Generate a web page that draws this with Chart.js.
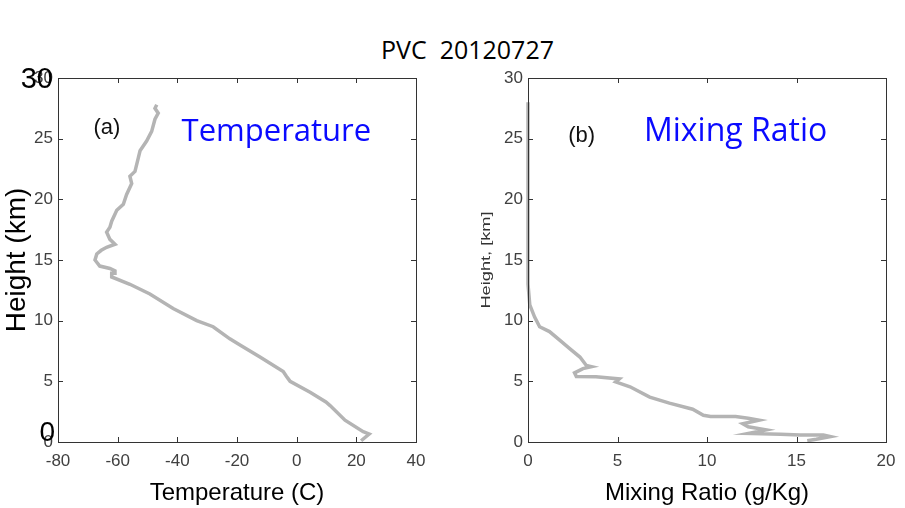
<!DOCTYPE html>
<html>
<head>
<meta charset="utf-8">
<script src="https://cdn.jsdelivr.net/npm/chart.js@4.4.1/dist/chart.umd.min.js"></script>
<style>
  body { margin: 0; background: #fff; }
  #wrap { position: relative; width: 905px; height: 508px; overflow: hidden; }
  #title { position: absolute; left: 0; width: 935px; top: 32px; line-height: 32px;
           text-align: center; font: 25px "Open Sans", sans-serif; white-space: pre; color: #000; }
  canvas { position: absolute; top: 0; }
  #c1 { left: 0; }
  #c2 { left: 450px; }
</style>
</head>
<body>
<div id="wrap">
  <div id="title">PVC  20120727</div>
  <canvas id="c1" width="450" height="508"></canvas>
  <canvas id="c2" width="455" height="508"></canvas>
</div>
<script>
// (a) temperature profile
const tempC  = [21.6, 24.3, 22.3, 16.2, 11.2, 9.8, 4.5, -2.2, -2.8, -3.4, -4.5, -12.3, -19, -22.4, -28, -33.5,
                -41.4, -49.2, -55.9, -62, -62, -60.9, -60.9, -62.6, -66, -67.6, -67, -65.5, -63.7, -60.9, -62.6,
                -63.7, -62.6, -62, -60.3, -58.1, -57, -55.3, -55.9, -54.2, -53.1, -52.5, -50.3, -48.6, -47.5,
                -46.4, -47.5, -46.9];
const tempKm = [0.1, 0.66, 0.85, 1.8, 3.0, 3.3, 4.1, 5.0, 5.2, 5.4, 5.8, 7.0, 8.0, 8.5, 9.5, 10.0,
                11.0, 12.2, 13.0, 13.6, 13.9, 13.9, 14.1, 14.3, 14.5, 15.0, 15.5, 15.8, 16.05, 16.3, 16.7,
                17.3, 17.7, 18.2, 19.1, 19.6, 20.4, 21.3, 21.9, 22.3, 23.4, 24.0, 24.8, 25.6, 26.6,
                27.1, 27.5, 27.8];

// (b) mixing ratio profile
const mixQ  = [15.6, 16.1, 16.9, 16.5, 15.2, 14.1, 12.3, 13.3, 12.3, 12.0, 12.9, 12.3, 11.6, 10.2, 9.8, 9.2,
               7.9, 6.8, 5.7, 4.9, 5.1, 3.8, 2.7, 2.6, 3.07, 3.54, 3.26, 2.9, 2.33, 1.77, 1.2, 0.65, 0.37,
               0.1, 0, 0];
const mixKm = [0.1, 0.22, 0.45, 0.58, 0.58, 0.63, 0.7, 1.0, 1.25, 1.5, 1.8, 1.95, 2.1, 2.1, 2.2, 2.7,
               3.2, 3.7, 4.55, 4.95, 5.2, 5.37, 5.4, 5.7, 6.05, 6.2, 6.3, 7.0, 7.7, 8.4, 9.1, 9.5, 10.3,
               11.3, 13.0, 28.0];

const heightTicks = [0, 5, 10, 15, 20, 25, 30];
const tempTicks = [-80, -60, -40, -20, 0, 20, 40];
const mixTicks = [0, 5, 10, 15, 20];

const lineGray = '#b4b4b4';
const tickFont = { family: '"Liberation Sans", Arial, sans-serif', size: 17 };

// box round the plot with matlab style inward ticks
const framePlugin = {
  id: 'frame',
  afterDraw(chart) {
    const { ctx, chartArea: a, scales: { x, y } } = chart;
    ctx.save();
    ctx.strokeStyle = '#333';
    ctx.lineWidth = 1;
    ctx.strokeRect(Math.round(a.left) + 0.5, Math.round(a.top) + 0.5,
                   Math.round(a.right - a.left), Math.round(a.bottom - a.top));
    ctx.beginPath();
    x.ticks.forEach(t => {
      const px = Math.round(x.getPixelForValue(t.value)) + 0.5;
      ctx.moveTo(px, a.bottom); ctx.lineTo(px, a.bottom - 5);
      ctx.moveTo(px, a.top); ctx.lineTo(px, a.top + 5);
    });
    y.ticks.forEach(t => {
      const py = Math.round(y.getPixelForValue(t.value)) + 0.5;
      ctx.moveTo(a.left, py); ctx.lineTo(a.left + 5, py);
      ctx.moveTo(a.right, py); ctx.lineTo(a.right - 5, py);
    });
    ctx.stroke();

    // text notes placed in data units
    (chart.options.plugins.frame.notes || []).forEach(n => {
      ctx.font = n.font;
      ctx.fillStyle = n.color;
      ctx.textAlign = n.align || 'center';
      ctx.textBaseline = n.baseline || 'alphabetic';
      const px = n.px !== undefined ? n.px : x.getPixelForValue(n.x);
      const py = y.getPixelForValue(n.y) + (n.dy || 0);
      ctx.save();
      ctx.translate(px, py);
      if (n.rotate) ctx.rotate(n.rotate);
      if (n.stretch) ctx.scale(n.stretch, 1);
      ctx.fillText(n.text, 0, 0);
      ctx.restore();
    });
    ctx.restore();
  }
};

function toPoints(xs, ys) {
  return xs.map((v, i) => ({ x: v, y: ys[i] }));
}

function makeChart(id, opts) {
  return new Chart(document.getElementById(id), {
    type: 'scatter',
    data: {
      datasets: [{
        data: toPoints(opts.xs, opts.ys),
        showLine: true,
        borderColor: lineGray,
        backgroundColor: lineGray,
        borderWidth: 3.5,
        pointRadius: 0,
        clip: false
      }]
    },
    options: {
      responsive: false,
      animation: false,
      layout: { padding: { top: 78, right: opts.padRight, bottom: 0, left: 0 } },
      plugins: {
        legend: { display: false },
        tooltip: { enabled: false },
        frame: { notes: opts.notes }
      },
      scales: {
        x: {
          type: 'linear',
          min: opts.xTicks[0], max: opts.xTicks[opts.xTicks.length - 1],
          afterBuildTicks: s => { s.ticks = opts.xTicks.map(v => ({ value: v })); },
          afterFit: s => { s.height = 66; },
          grid: { display: false, drawTicks: false },
          border: { display: false },
          ticks: { font: tickFont, color: '#404040', padding: 9, maxRotation: 0 },
          title: {
            display: true, text: opts.xTitle, color: '#000',
            font: { family: '"Liberation Sans", Arial, sans-serif', size: 24 },
            padding: { top: 0, bottom: 0 }
          }
        },
        y: {
          type: 'linear',
          min: 0, max: 30,
          afterBuildTicks: s => { s.ticks = heightTicks.map(v => ({ value: v })); },
          afterFit: s => { s.width = opts.yWidth; },
          grid: { display: false, drawTicks: false },
          border: { display: false },
          ticks: { font: tickFont, color: '#404040', padding: 5 },
          title: opts.yTitle
        }
      }
    },
    plugins: [framePlugin]
  });
}

makeChart('c1', {
  xs: tempC, ys: tempKm, xTicks: tempTicks,
  padRight: 34, yWidth: 58,
  xTitle: 'Temperature (C)',
  yTitle: {
    display: true, text: 'Height (km)', color: '#000',
    font: { family: '"Liberation Sans", Arial, sans-serif', size: 28 },
    padding: { top: 0, bottom: 0 }
  },
  notes: [
    { text: '(a)', x: -63.6, y: 25.9, baseline: 'middle', color: '#111', font: '22px "Liberation Sans", Arial, sans-serif' },
    { text: 'Temperature', x: -6.8, y: 24.8, color: '#0a0aff', font: '31px "Open Sans", sans-serif' },
    { text: '30', px: 53, y: 30, dy: 2, align: 'right', baseline: 'middle', color: '#000', font: '29px "Liberation Sans", Arial, sans-serif' },
    { text: '0', px: 55, y: 0, dy: -9, align: 'right', baseline: 'middle', color: '#000', font: '28px "Liberation Sans", Arial, sans-serif' }
  ]
});

makeChart('c2', {
  xs: mixQ, ys: mixKm, xTicks: mixTicks,
  padRight: 19, yWidth: 78,
  xTitle: 'Mixing Ratio (g/Kg)',
  yTitle: { display: false },
  notes: [
    { text: '(b)', x: 3.0, y: 25.2, baseline: 'middle', color: '#111', font: '22px "Liberation Sans", Arial, sans-serif' },
    { text: 'Mixing Ratio', x: 11.6, y: 24.8, color: '#0a0aff', font: '32px "Open Sans", sans-serif' },
    { text: 'Height, [km]', px: 36, y: 15, baseline: 'middle', rotate: -Math.PI / 2, stretch: 1.4, color: '#333', font: '13px "Liberation Sans", Arial, sans-serif' }
  ]
});
</script>
</body>
</html>
